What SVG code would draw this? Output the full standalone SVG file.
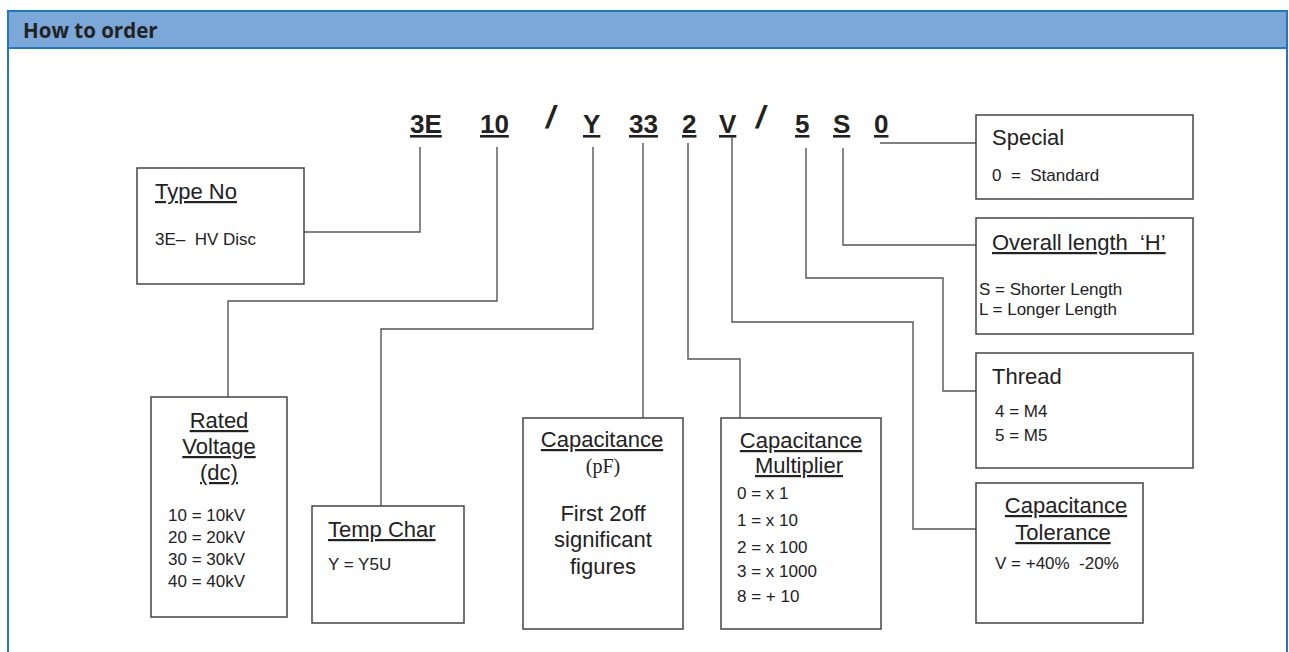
<svg xmlns="http://www.w3.org/2000/svg" width="1289" height="652" viewBox="0 0 1289 652">
<style>
.frame{fill:none;stroke:#1f78c1;stroke-width:2}
.box{fill:#fff;stroke:#444;stroke-width:1.5}
.con{fill:none;stroke:#555;stroke-width:1.4}
text{font-family:"Liberation Sans",Arial,sans-serif;fill:#222;white-space:pre}
.code{font-size:26px;font-weight:bold;text-decoration:underline}
.slash{font-size:32px;font-weight:bold;font-style:italic}
.hd{font-size:22px}
.u{text-decoration:underline}
.bd{font-size:17px}
.c{text-anchor:middle}
</style>
<rect x="0" y="0" width="1289" height="652" fill="#fff"/>
<g id="header">
<rect x="8" y="11" width="1279" height="37" fill="#7ba7d9"/>
<line x1="7" y1="11" x2="1288" y2="11" class="frame"/>
<line x1="7" y1="48" x2="1288" y2="48" class="frame"/>
<line x1="8" y1="10" x2="8" y2="652" class="frame"/>
<line x1="1287" y1="10" x2="1287" y2="652" class="frame"/>
<text x="23" y="38" style="font-family:'Open Sans','Noto Sans',sans-serif;font-size:20.5px;font-weight:bold;fill:#222">How to order</text>
</g>
<g id="code">
<text class="code" x="410" y="133">3E</text>
<text class="code" x="480" y="133">10</text>
<text class="slash" x="546" y="128">/</text>
<text class="code" x="583" y="133">Y</text>
<text class="code" x="629" y="133">33</text>
<text class="code" x="682" y="133">2</text>
<text class="code" x="719" y="133">V</text>
<text class="slash" x="756" y="128">/</text>
<text class="code" x="795" y="133">5</text>
<text class="code" x="833" y="133">S</text>
<text class="code" x="874" y="133">0</text>
</g>
<g id="connectors">
<path class="con" d="M420,147 V232 H304"/>
<path class="con" d="M497,147 V301 H228 V397"/>
<path class="con" d="M593,147 V329 H381 V506"/>
<path class="con" d="M643,143 V418"/>
<path class="con" d="M688,143 V359 H740 V418"/>
<path class="con" d="M732,137 V322 H913 V529 H976"/>
<path class="con" d="M806,148 V278 H943 V391 H976"/>
<path class="con" d="M843,148 V245 H976"/>
<path class="con" d="M880,143 H976"/>
</g>
<g id="type-no">
<rect class="box" x="137" y="168" width="167" height="116"/>
<text class="hd u" x="155" y="199">Type No</text>
<text class="bd" x="155" y="245">3E–  HV Disc</text>
</g>
<g id="rated-voltage">
<rect class="box" x="151" y="397" width="136" height="220"/>
<text class="hd u c" x="219" y="428">Rated</text>
<text class="hd u c" x="219" y="454">Voltage</text>
<text class="hd u c" x="219" y="480">(dc)</text>
<text class="bd" x="168" y="521">10 = 10kV</text>
<text class="bd" x="168" y="543">20 = 20kV</text>
<text class="bd" x="168" y="565">30 = 30kV</text>
<text class="bd" x="168" y="587">40 = 40kV</text>
</g>
<g id="temp-char">
<rect class="box" x="312" y="506" width="152" height="117"/>
<text class="hd u" x="328" y="537">Temp Char</text>
<text class="bd" x="328" y="570">Y = Y5U</text>
</g>
<g id="capacitance">
<rect class="box" x="523" y="418" width="160" height="211"/>
<text class="hd u c" x="602" y="447">Capacitance</text>
<text class="c" x="603" y="473" style="font-family:'Liberation Serif','Times New Roman',serif;font-size:20px">(pF)</text>
<text class="hd c" x="603" y="521">First 2off</text>
<text class="hd c" x="603" y="547">significant</text>
<text class="hd c" x="603" y="574">figures</text>
</g>
<g id="multiplier">
<rect class="box" x="721" y="418" width="160" height="211"/>
<text class="hd u c" x="801" y="448">Capacitance</text>
<text class="hd u c" x="799" y="473">Multiplier</text>
<text class="bd" x="737" y="499">0 = x 1</text>
<text class="bd" x="737" y="526">1 = x 10</text>
<text class="bd" x="737" y="553">2 = x 100</text>
<text class="bd" x="737" y="577">3 = x 1000</text>
<text class="bd" x="737" y="602">8 = + 10</text>
</g>
<g id="special">
<rect class="box" x="976" y="115" width="217" height="84"/>
<text class="hd" x="992" y="145">Special</text>
<text class="bd" x="992" y="181">0  =  Standard</text>
</g>
<g id="overall-length">
<rect class="box" x="976" y="218" width="217" height="116"/>
<text class="hd u" x="992" y="250">Overall length  ‘H’</text>
<text class="bd" x="979" y="295">S = Shorter Length</text>
<text class="bd" x="979" y="315">L = Longer Length</text>
</g>
<g id="thread">
<rect class="box" x="976" y="353" width="217" height="115"/>
<text class="hd" x="992" y="384">Thread</text>
<text class="bd" x="995" y="417">4 = M4</text>
<text class="bd" x="995" y="441">5 = M5</text>
</g>
<g id="tolerance">
<rect class="box" x="976" y="483" width="167" height="140"/>
<text class="hd u c" x="1066" y="513">Capacitance</text>
<text class="hd u c" x="1063" y="540">Tolerance</text>
<text class="bd" x="995" y="569">V = +40%  -20%</text>
</g>
</svg>
